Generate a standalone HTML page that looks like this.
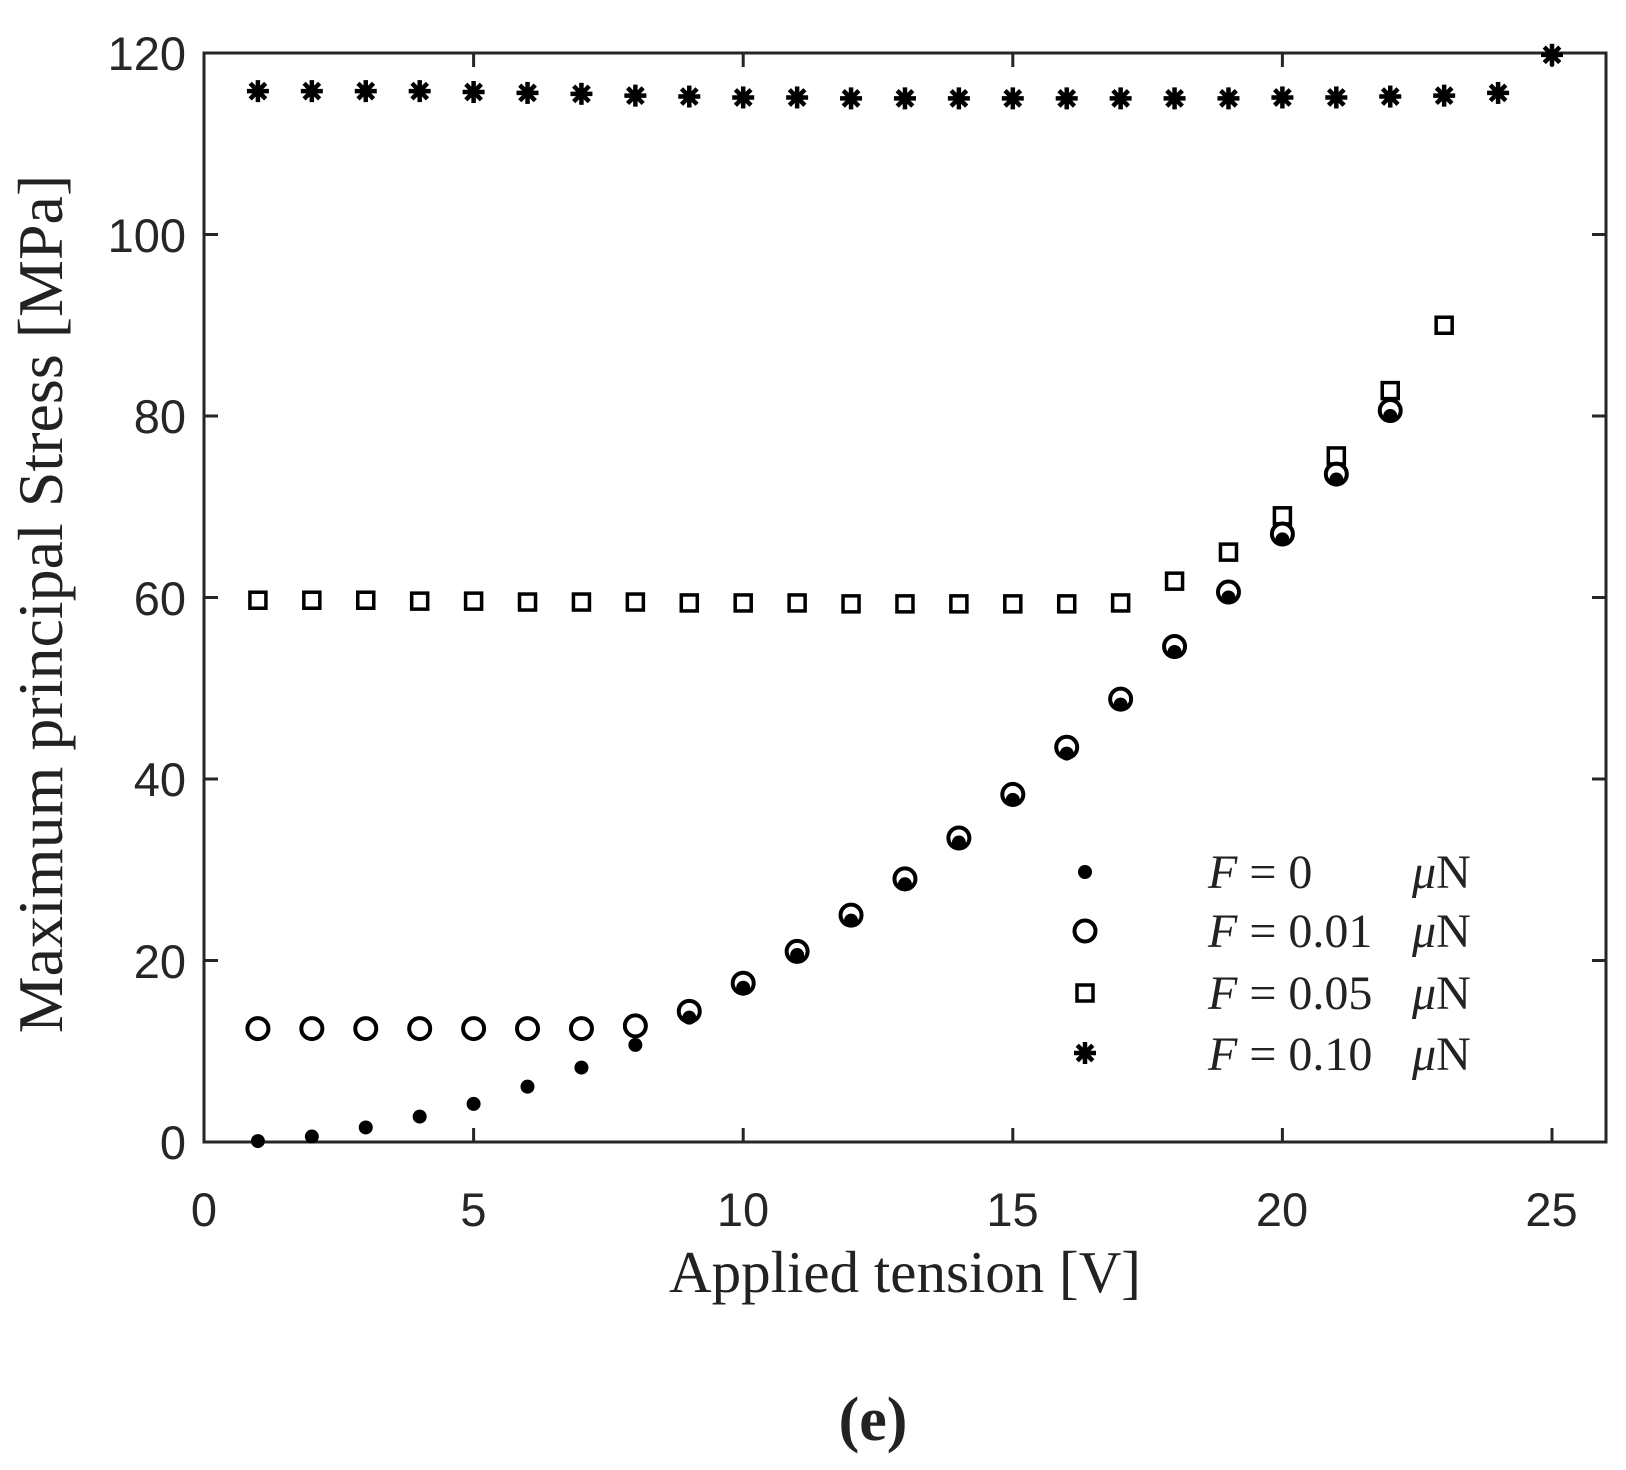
<!DOCTYPE html>
<html><head><meta charset="utf-8"><style>
html,body{margin:0;padding:0;background:#fff;}
svg{display:block}
.t{font-family:"Liberation Sans",sans-serif;font-size:47px;fill:#262626}
.s{font-family:"Liberation Serif",serif;fill:#222}
</style></head><body>
<svg id="c" width="1626" height="1470" viewBox="0 0 1626 1470" xmlns="http://www.w3.org/2000/svg">
<rect x="0" y="0" width="1626" height="1470" fill="#fff"/>
<g id="ticks" stroke="#262626" stroke-width="3"></g>
<rect x="204" y="53" width="1402" height="1089" fill="none" stroke="#262626" stroke-width="3"/>
<g class="t" text-anchor="middle">
<text x="204" y="1226">0</text><text x="473.5" y="1226">5</text><text x="743" y="1226">10</text>
<text x="1012.5" y="1226">15</text><text x="1282" y="1226">20</text><text x="1551.5" y="1226">25</text>
</g>
<g class="t" text-anchor="end">
<text x="186" y="1159">0</text><text x="186" y="978">20</text><text x="186" y="796">40</text>
<text x="186" y="615">60</text><text x="186" y="433">80</text><text x="186" y="252">100</text><text x="186" y="70">120</text>
</g>
<text class="s" x="905" y="1292" text-anchor="middle" font-size="59">Applied tension [V]</text>
<text class="s" transform="translate(62,604) rotate(-90)" text-anchor="middle" font-size="64">Maximum principal Stress [MPa]</text>
<text class="s" x="873" y="1440" text-anchor="middle" font-size="62" font-weight="bold">(e)</text>
<g class="s" font-size="48">
<text x="1208" y="888"><tspan font-style="italic">F</tspan> = 0</text><text x="1412" y="888"><tspan font-style="italic">μ</tspan>N</text>
<text x="1208" y="947"><tspan font-style="italic">F</tspan> = 0.01</text><text x="1412" y="947"><tspan font-style="italic">μ</tspan>N</text>
<text x="1208" y="1009"><tspan font-style="italic">F</tspan> = 0.05</text><text x="1412" y="1009"><tspan font-style="italic">μ</tspan>N</text>
<text x="1208" y="1070"><tspan font-style="italic">F</tspan> = 0.10</text><text x="1412" y="1070"><tspan font-style="italic">μ</tspan>N</text>
</g>
<g id="m"></g>
</svg>
<script>
var NS="http://www.w3.org/2000/svg";
function X(v){return 204+v*53.92;} function Y(v){return 1142-v*9.075;}
var m=document.getElementById('m'),tk=document.getElementById('ticks');
function el(n,a,p){var e=document.createElementNS(NS,n);for(var k in a)e.setAttribute(k,a[k]);(p||m).appendChild(e);return e;}
for(var i=0;i<=25;i+=5){el('line',{x1:X(i),x2:X(i),y1:1142,y2:1128},tk);el('line',{x1:X(i),x2:X(i),y1:53,y2:67},tk);}
for(var j=0;j<=120;j+=20){el('line',{x1:204,x2:218,y1:Y(j),y2:Y(j)},tk);el('line',{x1:1606,x2:1592,y1:Y(j),y2:Y(j)},tk);}
function dot(x,y){el('circle',{cx:x,cy:y,r:7,fill:'#000'});}
function circ(x,y){el('circle',{cx:x,cy:y,r:10.5,fill:'none',stroke:'#000','stroke-width':4});}
function sq(x,y){el('rect',{x:x-8,y:y-8,width:16,height:16,fill:'none',stroke:'#000','stroke-width':3.5});}
function star(x,y){var g=el('g',{stroke:'#000','stroke-width':4.5});for(var a=0;a<4;a++){var t=a*Math.PI/4,dx=11*Math.cos(t),dy=11*Math.sin(t);el('line',{x1:x-dx,y1:y-dy,x2:x+dx,y2:y+dy},g);}el('circle',{cx:x,cy:y,r:6,fill:'#000',stroke:'none'},g);}
var f0=[0.1,0.6,1.6,2.8,4.2,6.1,8.2,10.7,13.7,17,20.6,24.4,28.4,33,37.7,42.8,48.2,54,60,66.4,73,80];
var f1=[12.5,12.5,12.5,12.5,12.5,12.5,12.5,12.8,14.4,17.5,21,25,29,33.5,38.3,43.5,48.8,54.6,60.6,67,73.6,80.6];
var f5=[59.7,59.7,59.7,59.6,59.6,59.5,59.5,59.5,59.4,59.4,59.4,59.3,59.3,59.3,59.3,59.3,59.4,61.8,65,69,75.6,82.8,90];
var f10=[115.8,115.8,115.8,115.8,115.7,115.6,115.5,115.3,115.2,115.1,115.1,115.0,115.0,115.0,115.0,115.0,115.0,115.0,115.0,115.1,115.1,115.2,115.3,115.6,119.8];
f10.forEach(function(v,i){star(X(i+1),Y(v));});
f5.forEach(function(v,i){sq(X(i+1),Y(v));});
f1.forEach(function(v,i){circ(X(i+1),Y(v));});
f0.forEach(function(v,i){dot(X(i+1),Y(v));});
dot(1085,872);circ(1085,931);sq(1085,993);star(1085,1053);
</script>
</body></html>
